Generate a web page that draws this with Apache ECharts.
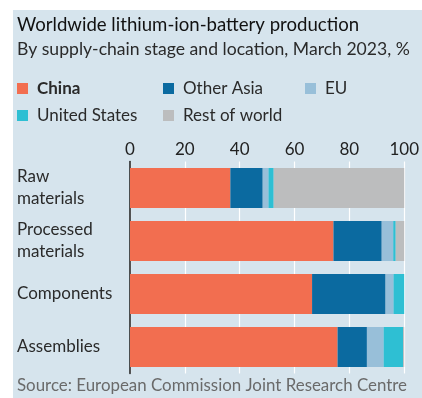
<!DOCTYPE html>
<html>
<head>
<meta charset="utf-8">
<script src="https://cdn.jsdelivr.net/npm/echarts@6/dist/echarts.min.js"></script>
<style>
  html, body { margin: 0; padding: 0; background: #ffffff; }
  #wrap { position: relative; width: 422px; height: 398px; background: #ffffff; overflow: hidden; }
  #chart { position: absolute; left: 13px; top: 10px; width: 409px; height: 388px; background: #d6e4ed; }
</style>
</head>
<body>
<div id="wrap"><div id="chart"></div></div>
<script>
const categories = ["Raw\nmaterials", "Processed\nmaterials", "Components", "Assemblies"];
const china        = [36.6, 74.2, 66.4, 75.7];
const otherAsia    = [11.8, 17.6, 26.8, 10.7];
const eu           = [2.1, 4.2, 2.9, 6.1];
const unitedStates = [1.9, 0.9, 3.9, 7.1];
const restOfWorld  = [47.6, 3.1, 0.0, 0.4];
const tickValues   = [0, 20, 40, 60, 80, 100];

const seriesNames  = ["China", "Other Asia", "EU", "United States", "Rest of world"];
const seriesData   = [china, otherAsia, eu, unitedStates, restOfWorld];
const colors       = ["#f26e50", "#0b6aa0", "#98bfd9", "#2ebfd3", "#bcbdbe"];

const FONT = "Lato";
const chart = echarts.init(document.getElementById('chart'), null, { renderer: 'canvas' });

function legendAt(name, left, top, bold) {
  return {
    data: [name], left: left, top: top, orient: 'horizontal', padding: 0,
    icon: 'rect', itemWidth: 11, itemHeight: 11, itemGap: 0,
    selectedMode: false,
    textStyle: { fontFamily: FONT, fontSize: 17, color: '#2a2a2a', fontWeight: bold ? 'bold' : 'normal', padding: [0, 0, 0, 4] }
  };
}

const option = {
  animation: false,
  color: colors,
  title: [
    { text: "Worldwide lithium-ion-battery production", left: 4, top: 5, padding: 0,
      textStyle: { fontFamily: FONT, fontSize: 18.6, fontWeight: 'normal', color: '#111111' } },
    { text: "By supply-chain stage and location, March 2023, %", left: 4, top: 30, padding: 0,
      textStyle: { fontFamily: FONT, fontSize: 17.6, fontWeight: 'normal', color: '#2a2a2a' } },
    { text: "Source: European Commission Joint Research Centre", left: 4, top: 367, padding: 0,
      textStyle: { fontFamily: FONT, fontSize: 16.9, fontWeight: 'normal', color: '#6a6a6a' } }
  ],
  legend: [
    legendAt("China", 4, 70, true),
    legendAt("Other Asia", 150, 70, false),
    legendAt("EU", 292, 70, false),
    legendAt("United States", 4, 97, false),
    legendAt("Rest of world", 150, 97, false)
  ],
  grid: { left: 117, right: 16, top: 151.5, height: 212, containLabel: false },
  xAxis: {
    type: 'value', position: 'top', min: 0, max: 100, interval: 20,
    axisLine: { show: false }, axisTick: { show: false },
    splitLine: { show: true, lineStyle: { color: '#ffffff', width: 1.2 } },
    axisLabel: { fontFamily: FONT, fontSize: 17, color: '#222', margin: 3,
      formatter: function (v) { return tickValues.indexOf(v) >= 0 ? String(v) : ''; } }
  },
  yAxis: {
    type: 'category', data: categories, inverse: true,
    axisLine: { show: true, lineStyle: { color: '#1a1a1a', width: 1.5 } },
    axisTick: { show: false },
    axisLabel: { fontFamily: FONT, fontSize: 17, color: '#2a2a2a', align: 'left', margin: 113, lineHeight: 22 }
  },
  series: seriesNames.map(function (n, i) {
    return { name: n, type: 'bar', stack: 'total', barWidth: 40, data: seriesData[i],
      itemStyle: { color: colors[i] }, emphasis: { disabled: true } };
  })
};
chart.setOption(option);
</script>
</body>
</html>
